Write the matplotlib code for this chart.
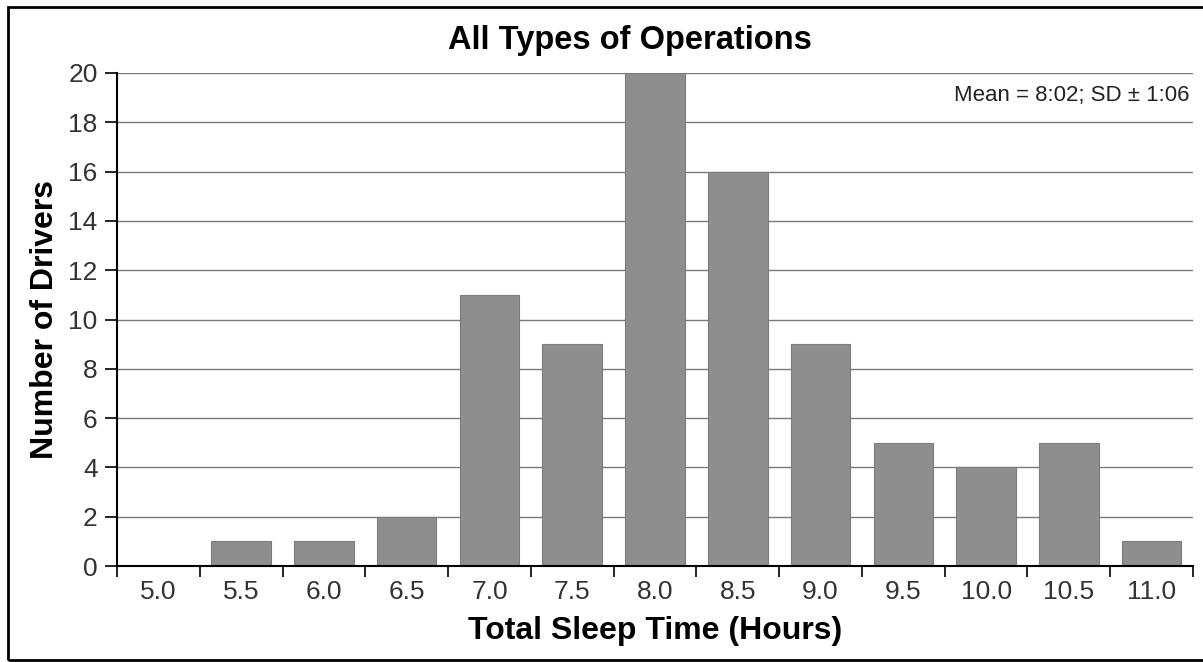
import matplotlib
matplotlib.use("Agg")
import matplotlib.pyplot as plt
import numpy as np
from matplotlib.patches import Rectangle

plt.rcParams['font.family'] = ['Liberation Sans', 'DejaVu Sans']

categories = ["5.0", "5.5", "6.0", "6.5", "7.0", "7.5", "8.0", "8.5", "9.0", "9.5", "10.0", "10.5", "11.0"]
drivers = [0, 1, 1, 2, 11, 9, 20, 16, 9, 5, 4, 5, 1]
y_ticks = [0, 2, 4, 6, 8, 10, 12, 14, 16, 18, 20]

fig = plt.figure(figsize=(12.03, 6.62), dpi=100)
ax = fig.add_axes([117/1203, 96/662, (1193-117)/1203, (566-73)/662])

x = np.arange(len(categories))
ax.set_axisbelow(True)
ax.yaxis.grid(True, color='#7a7a7a', linewidth=1)
ax.bar(x, drivers, width=0.72, color='#8e8e8e', edgecolor='#7c7c7c', linewidth=0.8, zorder=2)

ax.set_xlim(-0.5, len(categories) - 0.5)
ax.set_ylim(0, 20)
ax.set_yticks(y_ticks)
ax.set_xticks(x)
ax.set_xticklabels(categories)
ax.set_xticks(np.arange(-0.5, len(categories), 1.0), minor=True)
ax.tick_params(axis='x', which='major', length=0, pad=10, labelsize=19, labelcolor='#333333')
ax.tick_params(axis='x', which='minor', length=8, width=1.2, direction='out')
ax.tick_params(axis='y', length=9, width=1.2, direction='out', labelsize=19,
               colors='black', labelcolor='#333333', pad=5)

for s in ['top', 'right']:
    ax.spines[s].set_visible(False)
for s in ['left', 'bottom']:
    ax.spines[s].set_linewidth(1.5)

ax.set_xlabel("Total Sleep Time (Hours)", fontsize=23, fontweight='bold', labelpad=9)
ax.set_ylabel("Number of Drivers", fontsize=23, fontweight='bold', labelpad=6)
fig.text(630/1203, 1 - 41/662, "All Types of Operations", fontsize=23.5, fontweight='bold',
         ha='center', va='center')
ax.text(0.997, 0.955, "Mean = 8:02; SD \u00b1 1:06", transform=ax.transAxes, fontsize=16,
        ha='right', va='center', color='#222222')

fig.patches.append(Rectangle((8/1203, 2/662), 1.0, 653/662, transform=fig.transFigure,
                             fill=False, edgecolor='black', linewidth=2))

fig.savefig("out.png", dpi=100, facecolor='white')
